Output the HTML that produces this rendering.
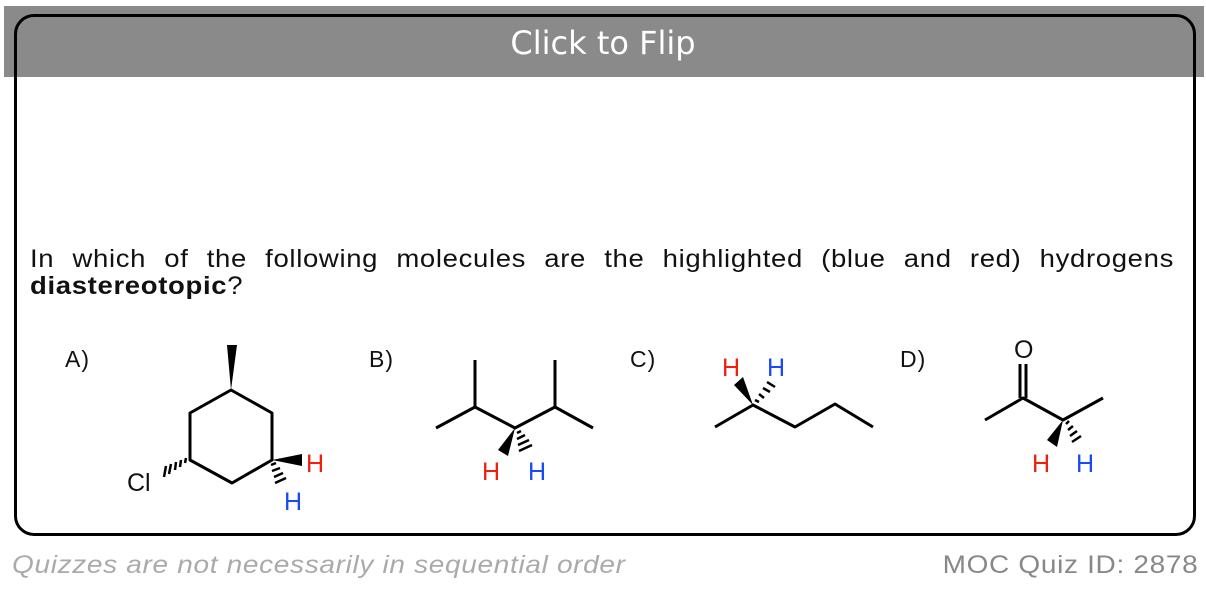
<!DOCTYPE html>
<html><head><meta charset="utf-8"><style>
html,body{margin:0;padding:0;background:#fff;width:1206px;height:600px;overflow:hidden;font-family:"Liberation Sans",Arial,sans-serif}
#hdr{position:absolute;left:4px;top:6px;width:1200px;height:71px;background:#8a8a8a}
#card{position:absolute;left:14px;top:14px;width:1176px;height:516px;border:3px solid #000;border-radius:20px}
#title{position:absolute;left:0;top:24px;width:1206px;text-align:center;color:#fff;font-size:32px;font-family:"DejaVu Sans","Liberation Sans",sans-serif}
.q{position:absolute;left:30px;width:1040px;font-size:25px;letter-spacing:0.6px;color:#111;white-space:nowrap;transform:scaleX(1.1);transform-origin:0 0}
#q1{top:245px;text-align:justify;text-align-last:justify;white-space:normal}
#q2{top:272px}
.lab{position:absolute;font-size:23px;letter-spacing:1px;color:#111}
#f1{position:absolute;left:12px;top:551px;font-size:25px;letter-spacing:0.6px;font-style:italic;color:#aaa;transform:scaleX(1.12);transform-origin:0 0;white-space:nowrap}
#f2{position:absolute;right:8px;top:551px;font-size:25px;letter-spacing:0.6px;color:#888;transform:scaleX(1.12);transform-origin:100% 0;white-space:nowrap}
svg{position:absolute;left:0;top:0}
</style></head><body>
<div id="hdr"></div>
<div id="card"></div>
<div id="title">Click to Flip</div>
<div class="q" id="q1">In which of the following molecules are the highlighted (blue and red) hydrogens</div>
<div class="q" id="q2"><b>diastereotopic</b>?</div>
<div class="lab" style="left:65px;top:346px">A)</div>
<div class="lab" style="left:369px;top:346px">B)</div>
<div class="lab" style="left:630px;top:346px">C)</div>
<div class="lab" style="left:900px;top:346px">D)</div>
<svg width="1206" height="600" font-family="Liberation Sans, Arial, sans-serif" font-size="25">
<g stroke="#000" stroke-width="3" fill="none" stroke-linejoin="round">
<polygon points="231,390 272,413 272,460 232,483 190,460 190,413"/>
<polyline points="436,428 475,407 515,428 555,407 593,428"/>
<line x1="475" y1="407" x2="475" y2="360"/><line x1="555" y1="407" x2="555" y2="360"/>
<polyline points="715,427 753,405 795,427 835,404 873,427"/>
<polyline points="985,420 1023,398 1063,420 1103,398"/>
<line x1="1020" y1="398" x2="1020" y2="364"/><line x1="1026" y1="398" x2="1026" y2="364"/>
</g>
<g fill="#000">
<polygon points="231,390 227,345 237,345"/>
<polygon points="272,460 302,454 302,466"/>
<polygon points="515,428 498,450 508,456"/>
<polygon points="753,405 734,385 743,377"/>
<polygon points="1063,420 1047,440 1057,447"/>
</g>
<g stroke="#000" stroke-width="2.5">
<line x1="186" y1="458" x2="185" y2="463"/><line x1="181" y1="460" x2="180" y2="467"/><line x1="176" y1="462" x2="175" y2="470"/><line x1="171" y1="464" x2="169" y2="474"/><line x1="166" y1="466" x2="164" y2="477"/>
<line x1="271" y1="465" x2="276" y2="463"/><line x1="272" y1="471" x2="280" y2="468"/><line x1="274" y1="477" x2="283" y2="473"/><line x1="275" y1="483" x2="286" y2="478"/>
<line x1="517" y1="433" x2="521" y2="431"/><line x1="517" y1="439" x2="525" y2="435"/><line x1="518" y1="445" x2="529" y2="440"/><line x1="519" y1="451" x2="532" y2="445"/>
<line x1="755" y1="400" x2="759" y2="402"/><line x1="759" y1="394" x2="764" y2="398"/><line x1="763" y1="388" x2="770" y2="392"/><line x1="767" y1="382" x2="775" y2="387"/>
<line x1="1066" y1="424" x2="1069" y2="421"/><line x1="1068" y1="430" x2="1073" y2="426"/><line x1="1070" y1="436" x2="1077" y2="431"/><line x1="1072" y1="442" x2="1081" y2="436"/>
</g>
<text x="127" y="491" fill="#111">Cl</text>
<text x="306" y="472" fill="#f02010">H</text>
<text x="284" y="510" fill="#1a4af5">H</text>
<text x="482" y="480" fill="#f02010">H</text>
<text x="528" y="480" fill="#1a4af5">H</text>
<text x="722" y="376" fill="#f02010">H</text>
<text x="767" y="376" fill="#1a4af5">H</text>
<text x="1014" y="358" fill="#111">O</text>
<text x="1032" y="472" fill="#f02010">H</text>
<text x="1076" y="472" fill="#1a4af5">H</text>
</svg>
<div id="f1">Quizzes are not necessarily in sequential order</div>
<div id="f2">MOC Quiz ID: 2878</div>
</body></html>
